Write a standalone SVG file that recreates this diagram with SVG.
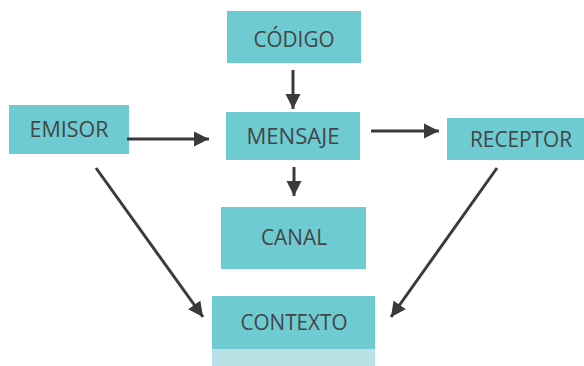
<svg xmlns="http://www.w3.org/2000/svg" width="584" height="366" viewBox="0 0 584 366">
<style>
.box{fill:#6ecbd2}
.lbl{font-family:"Open Sans","Liberation Sans",sans-serif;font-size:21px;fill:#454545;text-anchor:middle}
.con{stroke:#3a3a3a;stroke-width:3;fill:none;marker-end:url(#ah)}
</style>
<defs>
<marker id="ah" markerUnits="userSpaceOnUse" markerWidth="16" markerHeight="16" viewBox="0 0 16 16" refX="15" refY="8" orient="auto">
<path d="M0,0.5 L15,8 L0,15.5 Z" fill="#3a3a3a"/>
</marker>
</defs>
<rect width="584" height="366" fill="#fff"/>
<g id="codigo"><rect class="box" x="227" y="11" width="134" height="52"/><text class="lbl" x="294" y="47" textLength="81" lengthAdjust="spacingAndGlyphs">CÓDIGO</text></g>
<g id="emisor"><rect class="box" x="9" y="105" width="120" height="49"/><text class="lbl" x="69" y="137" textLength="79" lengthAdjust="spacingAndGlyphs">EMISOR</text></g>
<g id="mensaje"><rect class="box" x="226" y="112" width="134" height="48"/><text class="lbl" x="293" y="144" textLength="93" lengthAdjust="spacingAndGlyphs">MENSAJE</text></g>
<g id="receptor"><rect class="box" x="447" y="118" width="137" height="42"/><text class="lbl" x="521" y="147" textLength="102" lengthAdjust="spacingAndGlyphs">RECEPTOR</text></g>
<g id="canal"><rect class="box" x="221" y="207" width="145" height="62"/><text class="lbl" x="294" y="245" textLength="66" lengthAdjust="spacingAndGlyphs">CANAL</text></g>
<g id="contexto"><rect class="box" x="212" y="296" width="163" height="53"/><rect x="212" y="349" width="163" height="17" fill="#b9e2e6"/><text class="lbl" x="294" y="330" textLength="107" lengthAdjust="spacingAndGlyphs">CONTEXTO</text></g>
<g id="connectors">
<line class="con" x1="293" y1="70" x2="293" y2="109"/>
<line class="con" x1="127" y1="139" x2="209" y2="139"/>
<line class="con" x1="371" y1="131" x2="439" y2="131"/>
<line class="con" x1="294" y1="167" x2="294" y2="196"/>
<line class="con" x1="96" y1="168" x2="203" y2="317"/>
<line class="con" x1="497" y1="168" x2="391" y2="317"/>
</g>
</svg>
